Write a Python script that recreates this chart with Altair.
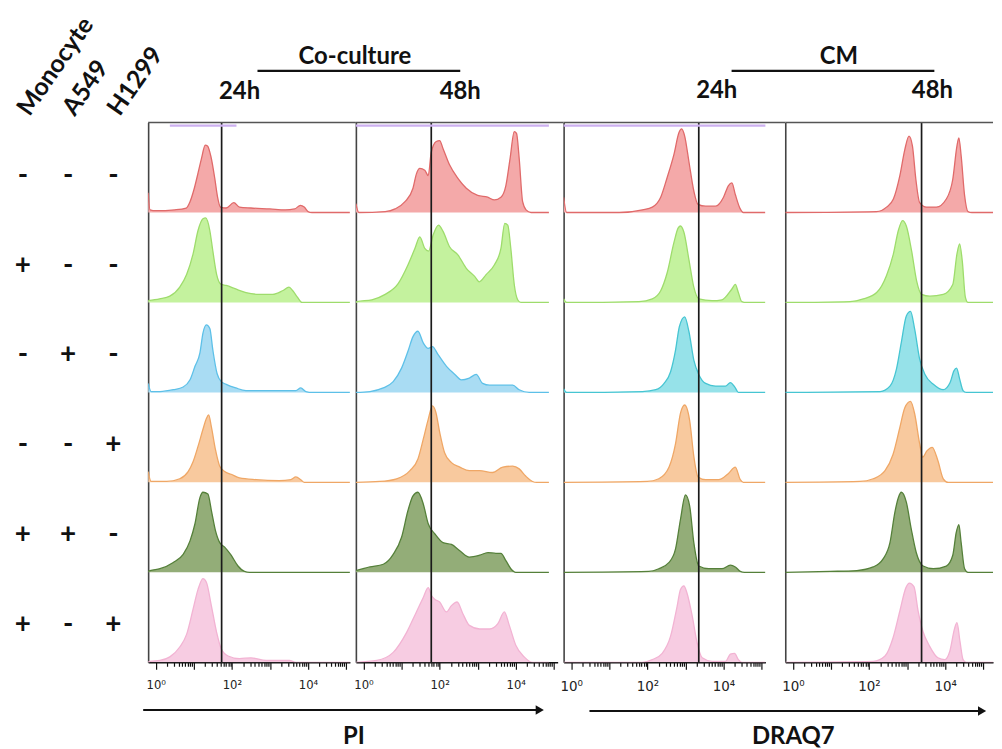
import altair as alt
import pandas as pd

# ---------------- data ----------------
# Each curve: (log10 fluorescence, height as fraction of its row)
PI24_R1 = [(-0.2,0.22),(-0.15,0.03),(0.0,0.02),(0.5,0.03),(0.8,0.05),(0.9,0.12),(1.0,0.25),(1.1,0.42),(1.2,0.6),(1.3,0.75),(1.36,0.74),(1.45,0.62),(1.55,0.38),(1.62,0.18),(1.7,0.06),(1.85,0.05),(2.05,0.11),(2.2,0.06),(2.5,0.05),(3.0,0.04),(3.4,0.03),(3.65,0.04),(3.8,0.08),(3.9,0.06),(4.0,0.01),(4.1,0.0),(5.1,0.0)]
PI24_R2 = [(-0.2,0.02),(0.1,0.04),(0.37,0.07),(0.63,0.17),(0.81,0.31),(0.98,0.54),(1.11,0.8),(1.24,0.93),(1.31,0.94),(1.42,0.8),(1.5,0.57),(1.6,0.31),(1.72,0.2),(1.85,0.19),(2.1,0.15),(2.37,0.11),(2.72,0.09),(3.07,0.09),(3.33,0.13),(3.5,0.17),(3.6,0.13),(3.72,0.06),(3.84,0.0),(5.1,0.0)]
PI24_R3 = [(-0.2,0.1),(-0.12,0.01),(0.11,0.01),(0.46,0.03),(0.72,0.06),(0.9,0.14),(1.03,0.29),(1.16,0.44),(1.24,0.66),(1.33,0.75),(1.42,0.71),(1.5,0.47),(1.61,0.21),(1.72,0.12),(1.85,0.09),(2.1,0.05),(2.37,0.02),(3.07,0.02),(3.68,0.02),(3.81,0.05),(3.94,0.01),(4.12,0.0),(5.1,0.0)]
PI24_R4 = [(-0.2,0.12),(-0.12,0.01),(0.29,0.01),(0.63,0.04),(0.85,0.12),(0.98,0.23),(1.11,0.4),(1.24,0.59),(1.33,0.71),(1.39,0.75),(1.46,0.62),(1.57,0.36),(1.68,0.18),(1.81,0.12),(1.98,0.09),(2.2,0.05),(2.64,0.03),(3.24,0.02),(3.55,0.03),(3.68,0.06),(3.81,0.03),(3.9,0.0),(5.1,0.0)]
PI24_R5 = [(-0.2,0.01),(-0.15,0.02),(0.11,0.04),(0.46,0.11),(0.72,0.2),(0.9,0.35),(1.03,0.54),(1.16,0.83),(1.24,0.89),(1.37,0.87),(1.46,0.69),(1.57,0.46),(1.68,0.33),(1.81,0.28),(1.98,0.19),(2.16,0.07),(2.33,0.01),(2.46,0.0),(5.1,0.0)]
PI24_R6 = [(-0.2,0.0),(-0.15,0.01),(0.11,0.02),(0.37,0.06),(0.63,0.17),(0.81,0.31),(0.98,0.59),(1.11,0.81),(1.24,0.93),(1.33,0.89),(1.46,0.63),(1.6,0.33),(1.72,0.15),(1.9,0.07),(2.2,0.04),(2.5,0.05),(2.9,0.02),(3.51,0.02),(3.68,0.0),(5.1,0.0)]

PI48_R1 = [(-0.2,0.1),(-0.12,0.0),(0.57,0.01),(0.83,0.04),(1.09,0.12),(1.3,0.27),(1.39,0.43),(1.48,0.49),(1.61,0.47),(1.7,0.41),(1.78,0.67),(1.91,0.79),(2.0,0.8),(2.09,0.71),(2.26,0.53),(2.48,0.38),(2.7,0.27),(3.0,0.19),(3.26,0.17),(3.44,0.14),(3.61,0.17),(3.74,0.3),(3.85,0.6),(3.96,0.9),(4.02,0.88),(4.09,0.6),(4.18,0.12),(4.27,0.03),(4.4,0.0),(4.87,0.0)]
PI48_R2 = [(-0.2,0.0),(-0.17,0.01),(0.22,0.03),(0.57,0.09),(0.91,0.21),(1.17,0.42),(1.35,0.6),(1.48,0.73),(1.61,0.6),(1.71,0.57),(1.83,0.75),(1.97,0.86),(2.09,0.79),(2.26,0.62),(2.48,0.53),(2.7,0.38),(2.92,0.29),(3.04,0.23),(3.22,0.31),(3.44,0.42),(3.61,0.6),(3.71,0.88),(3.79,0.86),(3.87,0.6),(3.96,0.2),(4.05,0.03),(4.13,0.0),(4.87,0.0)]
PI48_R3 = [(-0.2,0.0),(0.17,0.01),(0.52,0.05),(0.78,0.12),(1.0,0.27),(1.17,0.46),(1.3,0.62),(1.43,0.68),(1.57,0.55),(1.7,0.49),(1.81,0.51),(1.96,0.42),(2.18,0.29),(2.4,0.2),(2.57,0.14),(2.78,0.16),(2.96,0.2),(3.13,0.1),(3.31,0.08),(3.66,0.08),(3.92,0.08),(4.09,0.03),(4.35,0.0),(4.87,0.0)]
PI48_R4 = [(-0.2,0.0),(0.43,0.01),(0.87,0.04),(1.22,0.13),(1.43,0.26),(1.57,0.48),(1.7,0.7),(1.81,0.85),(1.9,0.78),(2.0,0.56),(2.13,0.33),(2.31,0.22),(2.53,0.17),(2.78,0.13),(3.05,0.13),(3.39,0.11),(3.66,0.17),(3.92,0.18),(4.09,0.15),(4.26,0.07),(4.44,0.01),(4.55,0.0),(4.87,0.0)]
PI48_R5 = [(-0.2,0.02),(0.17,0.06),(0.52,0.09),(0.78,0.2),(1.0,0.39),(1.17,0.69),(1.3,0.85),(1.43,0.89),(1.57,0.76),(1.7,0.54),(1.87,0.43),(2.09,0.33),(2.31,0.31),(2.53,0.24),(2.78,0.17),(3.05,0.19),(3.27,0.22),(3.48,0.21),(3.61,0.21),(3.74,0.13),(3.87,0.04),(4.0,0.0),(4.87,0.0)]
PI48_R6 = [(-0.2,0.0),(0.35,0.02),(0.78,0.11),(1.13,0.33),(1.39,0.56),(1.57,0.72),(1.7,0.83),(1.79,0.74),(1.87,0.7),(2.0,0.67),(2.18,0.56),(2.31,0.63),(2.46,0.67),(2.61,0.54),(2.78,0.41),(3.05,0.37),(3.31,0.37),(3.53,0.43),(3.7,0.56),(3.83,0.41),(4.0,0.19),(4.22,0.06),(4.44,0.0),(4.87,0.0)]

DQ24_R1 = [(-0.2,0.17),(-0.12,0.0),(1.26,0.0),(1.87,0.03),(2.13,0.06),(2.35,0.17),(2.52,0.39),(2.7,0.65),(2.83,0.89),(2.9,0.93),(2.98,0.85),(3.09,0.57),(3.22,0.24),(3.33,0.09),(3.53,0.07),(3.79,0.07),(4.0,0.17),(4.13,0.3),(4.22,0.33),(4.31,0.2),(4.44,0.04),(4.52,0.0),(5.1,0.0)]
DQ24_R2 = [(-0.2,0.04),(-0.12,0.0),(1.78,0.01),(2.13,0.04),(2.35,0.13),(2.52,0.33),(2.7,0.67),(2.81,0.83),(2.87,0.85),(2.96,0.78),(3.09,0.48),(3.22,0.17),(3.35,0.04),(3.7,0.02),(3.96,0.03),(4.22,0.15),(4.31,0.2),(4.39,0.11),(4.48,0.01),(4.6,0.0),(5.1,0.0)]
DQ24_R3 = [(-0.2,0.04),(-0.12,0.0),(1.87,0.01),(2.22,0.03),(2.44,0.1),(2.61,0.23),(2.74,0.47),(2.84,0.73),(2.98,0.84),(3.09,0.68),(3.22,0.36),(3.35,0.2),(3.53,0.1),(3.79,0.07),(4.05,0.07),(4.18,0.11),(4.31,0.05),(4.39,0.0),(5.1,0.0)]
DQ24_R4 = [(-0.2,0.0),(2.0,0.01),(2.3,0.04),(2.57,0.17),(2.74,0.43),(2.87,0.77),(2.98,0.86),(3.11,0.69),(3.22,0.29),(3.33,0.06),(3.53,0.03),(3.87,0.03),(4.13,0.1),(4.31,0.17),(4.44,0.03),(4.52,0.0),(5.1,0.0)]
DQ24_R5 = [(-0.2,0.0),(2.04,0.01),(2.3,0.04),(2.57,0.11),(2.74,0.26),(2.87,0.59),(3.0,0.86),(3.11,0.74),(3.22,0.33),(3.35,0.07),(3.61,0.04),(3.96,0.04),(4.18,0.08),(4.31,0.06),(4.44,0.01),(4.55,0.0),(5.1,0.0)]
DQ24_R6 = [(-0.2,0.0),(1.87,0.0),(2.13,0.03),(2.39,0.1),(2.61,0.29),(2.78,0.62),(2.87,0.81),(2.96,0.85),(3.04,0.77),(3.18,0.51),(3.31,0.21),(3.44,0.05),(3.7,0.01),(4.05,0.01),(4.18,0.09),(4.29,0.1),(4.39,0.03),(4.48,0.0),(5.1,0.0)]

DQ48_R1 = [(-0.2,0.0),(2.2,0.01),(2.46,0.06),(2.64,0.15),(2.81,0.41),(2.94,0.7),(3.05,0.85),(3.14,0.74),(3.23,0.37),(3.33,0.11),(3.51,0.06),(3.77,0.06),(4.03,0.15),(4.2,0.37),(4.31,0.74),(4.36,0.83),(4.42,0.63),(4.51,0.19),(4.6,0.01),(4.7,0.0),(5.3,0.0)]
DQ48_R2 = [(-0.2,0.0),(1.5,0.01),(1.85,0.04),(2.2,0.11),(2.46,0.3),(2.64,0.54),(2.77,0.8),(2.88,0.91),(2.98,0.85),(3.12,0.57),(3.25,0.24),(3.38,0.09),(3.6,0.07),(3.95,0.09),(4.2,0.2),(4.31,0.54),(4.38,0.65),(4.45,0.46),(4.53,0.06),(4.6,0.0),(5.3,0.0)]
DQ48_R3 = [(-0.2,0.0),(2.29,0.01),(2.55,0.07),(2.72,0.26),(2.85,0.56),(2.98,0.85),(3.09,0.9),(3.2,0.7),(3.33,0.37),(3.47,0.2),(3.69,0.09),(3.95,0.03),(4.13,0.11),(4.23,0.24),(4.3,0.27),(4.38,0.15),(4.47,0.02),(4.55,0.0),(5.3,0.0)]
DQ48_R4 = [(-0.2,0.0),(1.76,0.01),(2.11,0.04),(2.42,0.13),(2.63,0.31),(2.81,0.61),(2.94,0.83),(3.09,0.9),(3.2,0.76),(3.33,0.43),(3.41,0.28),(3.52,0.35),(3.66,0.39),(3.81,0.24),(3.95,0.04),(4.08,0.0),(5.3,0.0)]
DQ48_R5 = [(-0.2,0.0),(0.98,0.01),(1.68,0.02),(2.11,0.06),(2.37,0.15),(2.55,0.33),(2.68,0.67),(2.77,0.83),(2.85,0.89),(2.98,0.78),(3.11,0.48),(3.24,0.22),(3.42,0.07),(3.69,0.04),(4.03,0.07),(4.2,0.19),(4.29,0.44),(4.36,0.53),(4.42,0.33),(4.51,0.04),(4.6,0.0),(5.3,0.0)]
DQ48_R6 = [(-0.2,0.0),(2.11,0.01),(2.42,0.07),(2.63,0.27),(2.81,0.57),(2.97,0.83),(3.06,0.88),(3.18,0.84),(3.29,0.57),(3.42,0.34),(3.59,0.18),(3.81,0.05),(3.99,0.03),(4.12,0.12),(4.25,0.38),(4.31,0.44),(4.39,0.23),(4.47,0.03),(4.55,0.0),(5.3,0.0)]

CURVES = [
    [PI24_R1, PI24_R2, PI24_R3, PI24_R4, PI24_R5, PI24_R6],
    [PI48_R1, PI48_R2, PI48_R3, PI48_R4, PI48_R5, PI48_R6],
    [DQ24_R1, DQ24_R2, DQ24_R3, DQ24_R4, DQ24_R5, DQ24_R6],
    [DQ48_R1, DQ48_R2, DQ48_R3, DQ48_R4, DQ48_R5, DQ48_R6],
]
GATES_LOG10 = [1.73, 1.78, 3.35, 3.38]
# faint lavender overlay clipped at the top of the panels: (start, end) log10
LAVENDER = [(0.37, 2.12), (-0.2, 4.87), (-0.2, 5.1), None]

CONDS = ["Monocyte", "A549", "H1299"]
SIGNS = [["-", "-", "-"], ["+", "-", "-"], ["-", "+", "-"],
         ["-", "-", "+"], ["+", "+", "-"], ["+", "-", "+"]]

ROW_FILL = ["#f4a9a9", "#c4f29e", "#a9dcf3", "#f8c99e", "#93ad78", "#f7cce2"]
ROW_STROKE = ["#e06a6a", "#9edc6c", "#5dc0e8", "#efa766", "#55803a", "#f2b3d3"]
CYAN_FILL, CYAN_STROKE = "#96e2e9", "#46c5d2"

# ---------------- tables ----------------
recs = []
for p, curves in enumerate(CURVES):
    for r, pts in enumerate(curves):
        fill, stroke = ROW_FILL[r], ROW_STROKE[r]
        if r == 2 and p >= 2:
            fill, stroke = CYAN_FILL, CYAN_STROKE
        for i, (L, h) in enumerate(pts):
            recs.append(dict(panel=p, row=r, i=i, v=10 ** L, base=5 - r,
                             top=5 - r + h, fill=fill, stroke=stroke))
df = pd.DataFrame(recs)

W, H = 203, 543
W4 = 209
XMIN, XMAX = -0.2, 5.1
TICKS = [k * 10 ** d for d in range(5) for k in range(1, 10)] + [100000]
LABEL_EXPR = ("datum.value == 1 ? '10⁰' : datum.value == 100 ? '10²' : "
              "datum.value == 10000 ? '10⁴' : ''")
MAJOR_TEST = "indexof([1,10,100,1000,10000,100000], datum.value) >= 0"
TFONT = "Lato"
GAP = 6


def panel(p, label_size, gap, extras, width=W):
    d = df[df.panel == p]
    xmax = XMIN + (XMAX - XMIN) * width / W
    xs = alt.Scale(type="log", domain=[10 ** XMIN, 10 ** xmax], nice=False)
    ys = alt.Scale(domain=[0, 6], nice=False, zero=False)
    xaxis = alt.Axis(values=TICKS, labelExpr=LABEL_EXPR, title=None, grid=False,
                     tickSize={"condition": {"test": MAJOR_TEST, "value": 7}, "value": 4},
                     tickColor="#111", tickWidth=1.2, domainColor="#111", domainWidth=1.6,
                     labelFont="DejaVu Sans Condensed", labelFontSize=label_size,
                     labelColor="#222", labelPadding=9, labelFlush=False,
                     labelOverlap=False)
    yaxis = alt.Axis(title=None, labels=False, ticks=False, grid=False,
                     domainColor="#444", domainWidth=1.6)
    area = alt.Chart(d).mark_area(interpolate="monotone", clip=True).encode(
        x=alt.X("v:Q", scale=xs, axis=xaxis),
        y=alt.Y("top:Q", scale=ys, axis=yaxis),
        y2="base:Q",
        color=alt.Color("fill:N", scale=None),
        detail="row:N",
    )
    line = alt.Chart(d).mark_line(interpolate="monotone", clip=True, strokeWidth=1.3).encode(
        x="v:Q", y="top:Q", color=alt.Color("stroke:N", scale=None), detail="row:N"
    )
    gate = alt.Chart(pd.DataFrame({"v": [10 ** GATES_LOG10[p]]})).mark_rule(
        color="#1a1a1a", strokeWidth=1.7).encode(x="v:Q")
    top = alt.Chart(pd.DataFrame({"a": [0]})).mark_rule(color="#555", strokeWidth=1.5).encode(
        x=alt.value(0), x2=alt.value(width + gap), y=alt.value(0))
    layers = [area, line, gate, top]
    if LAVENDER[p] is not None:
        a, b = LAVENDER[p]
        lav = alt.Chart(pd.DataFrame({"v": [10 ** a], "v2": [10 ** b]})).mark_rule(
            color="#cdb0f0", strokeWidth=2.2).encode(x="v:Q", x2="v2:Q", y=alt.value(3))
        layers.append(lav)
    layers += extras
    return alt.layer(*layers).properties(width=width, height=H)


one = pd.DataFrame({"a": [0]})


def text(t, x, y, size=24, align="center"):
    return alt.Chart(pd.DataFrame({"t": [t]})).mark_text(
        font=TFONT, fontWeight="bold", fontSize=size, align=align,
        baseline="alphabetic", color="#111").encode(
        text="t:N", x=alt.value(x), y=alt.value(y))


def hline(x1, x2, y, w=2.5):
    return alt.Chart(one).mark_rule(color="#111", strokeWidth=w).encode(
        x=alt.value(x1), x2=alt.value(x2), y=alt.value(y))


def arrowhead(x, y):
    return alt.Chart(one).mark_point(shape="triangle-right", filled=True, size=90,
                                     color="#111", opacity=1).encode(
        x=alt.value(x), y=alt.value(y))


p1 = panel(0, 13, GAP, [
    text("Co-culture", 208, -59), hline(110, 314, -52), text("24h", 92, -24),
    hline(-5, 392, H + 48, 2.2), arrowhead(394, H + 48), text("PI", 207, H + 82),
])
p2 = panel(1, 13, GAP, [text("48h", 105, -24)])
p3 = panel(2, 15, 20, [
    text("CM", 277, -59), hline(169, 373, -52), text("24h", 154, -25),
    hline(26, 419, H + 49, 2.2), arrowhead(421, H + 49), text("DRAQ7", 231, H + 82),
])
p4 = panel(3, 15, 0, [text("48h", 148, -25)], width=W4)

# spacer so that the gap between the two DRAQ7 panels is wider
spacer = alt.Chart(one).mark_point(opacity=0).encode(
    x=alt.value(0), y=alt.value(0)).properties(width=20 - 2 * GAP, height=H)

# left +/- table
srec = []
for r, row in enumerate(SIGNS):
    for c, s in enumerate(row):
        srec.append(dict(cond=CONDS[c], sign=s, ypos=5 - r + 0.41))
sdf = pd.DataFrame(srec)
cscale = alt.Scale(type="point", domain=CONDS, range=[9, 100], padding=0)
signs = alt.Chart(sdf).mark_text(font=TFONT, fontWeight="bold", fontSize=28,
                                 baseline="middle", color="#111").encode(
    x=alt.X("cond:N", scale=cscale, axis=None),
    y=alt.Y("ypos:Q", scale=alt.Scale(domain=[0, 6], nice=False, zero=False), axis=None),
    text="sign:N",
)
headers = alt.Chart(pd.DataFrame({"cond": CONDS})).mark_text(
    font=TFONT, fontWeight="bold", fontSize=25, angle=305, align="left",
    baseline="middle", color="#111").encode(
    x=alt.X("cond:N", scale=cscale, axis=None), y=alt.value(-10), text="cond:N")
labels = alt.layer(signs, headers).properties(width=135 - GAP, height=H)

chart = alt.hconcat(
    labels, p1, p2, p3, spacer, p4,
    spacing=GAP,
    bounds="flush",
).properties(
    padding={"left": 5, "top": 2, "right": 0, "bottom": 0},
    background="white",
).configure_view(stroke=None)

chart.save("out.html", embed_options={"renderer": "svg", "actions": False})
